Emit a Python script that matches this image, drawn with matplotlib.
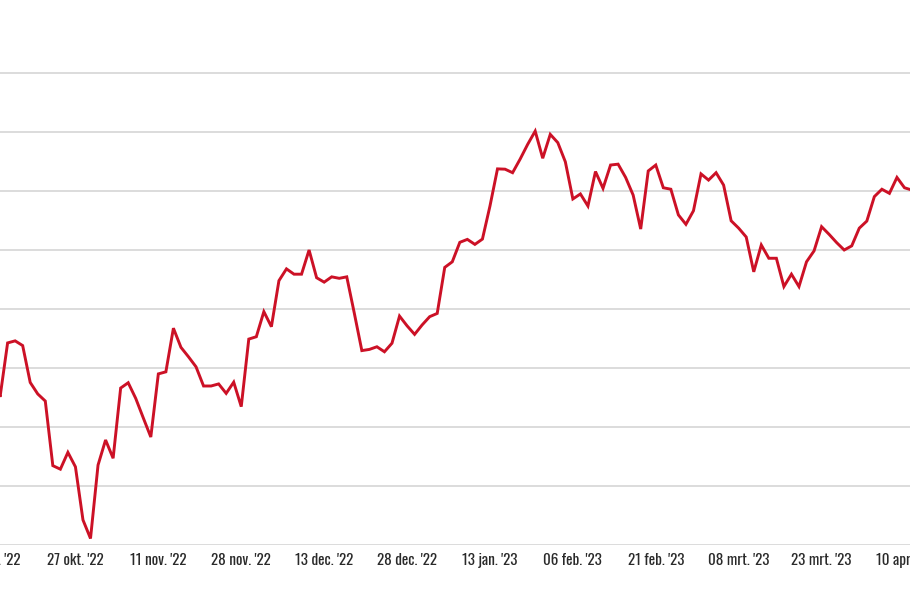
import matplotlib
matplotlib.use("Agg")
import matplotlib.pyplot as plt
from matplotlib.ticker import MultipleLocator

# koers
values = [
    46.10, 45.02, 46.85, 46.92, 46.76, 45.51, 45.12, 44.88, 42.69, 42.57,
    43.14, 42.65, 40.85, 40.22, 42.71, 43.56, 42.94, 45.32, 45.50, 44.97,
    44.31, 43.66, 45.80, 45.87, 47.35, 46.70, 46.38, 46.04, 45.39, 45.39,
    45.46, 45.14, 45.52, 44.69, 46.98, 47.06, 47.91, 47.40, 48.96, 49.36,
    49.18, 49.18, 50.00, 49.06, 48.91, 49.09, 49.04, 49.09, 47.86, 46.59,
    46.63, 46.72, 46.55, 46.84, 47.76, 47.43, 47.14, 47.46, 47.74, 47.85,
    49.41, 49.60, 50.26, 50.36, 50.19, 50.37, 51.49, 52.75, 52.74, 52.62,
    53.08, 53.58, 54.03, 53.11, 53.92, 53.64, 52.99, 51.73, 51.90, 51.49,
    52.66, 52.09, 52.88, 52.91, 52.46, 51.86, 50.71, 52.68, 52.88, 52.11,
    52.06, 51.19, 50.87, 51.33, 52.58, 52.37, 52.62, 52.20, 50.99, 50.74,
    50.44, 49.26, 50.17, 49.72, 49.72, 48.76, 49.18, 48.76, 49.60, 49.97,
    50.79, 50.53, 50.25, 50.00, 50.14, 50.74, 50.98, 51.81, 52.06, 51.92,
    52.46, 52.11, 52.03,
]

tick_labels = [
    "12 okt. '22", "27 okt. '22", "11 nov. '22", "28 nov. '22",
    "13 dec. '22", "28 dec. '22", "13 jan. '23", "06 feb. '23",
    "21 feb. '23", "08 mrt. '23", "23 mrt. '23", "10 apr. '23",
]
tick_step = 11

W, H = 910, 596
fig = plt.figure(figsize=(W / 100, H / 100), dpi=100)
fig.patch.set_facecolor("white")

# axes extends slightly beyond the left/right edge (cropped look)
x_left_px, x_right_px = -15.01, 915.8
ax = fig.add_axes([x_left_px / W, (H - 545) / H,
                   (x_right_px - x_left_px) / W, 485 / H])

x = list(range(len(values)))
ax.plot(x, values, color="#cc1126", linewidth=2.1, solid_joinstyle="miter",
        zorder=3)

ax.set_xlim(-1, 122.5)
ax.set_ylim(40, 40 + 485 / 29.5)
ax.yaxis.set_major_locator(MultipleLocator(2))
ax.grid(axis="y", color="#d2d2d2", linewidth=1.1, zorder=0)
ax.set_axisbelow(True)

ax.set_xticks(list(range(0, len(values), tick_step))[:len(tick_labels)])
ax.set_xticklabels(tick_labels, family=["Oswald", "DejaVu Sans"],
                   fontsize=10.9, fontweight=500, color="#2a2a2a")
ax.tick_params(axis="x", length=0, pad=6)
ax.tick_params(axis="y", length=0, labelleft=False)
for s in ax.spines.values():
    s.set_visible(False)

fig.savefig("out.png", dpi=100, facecolor="white")
